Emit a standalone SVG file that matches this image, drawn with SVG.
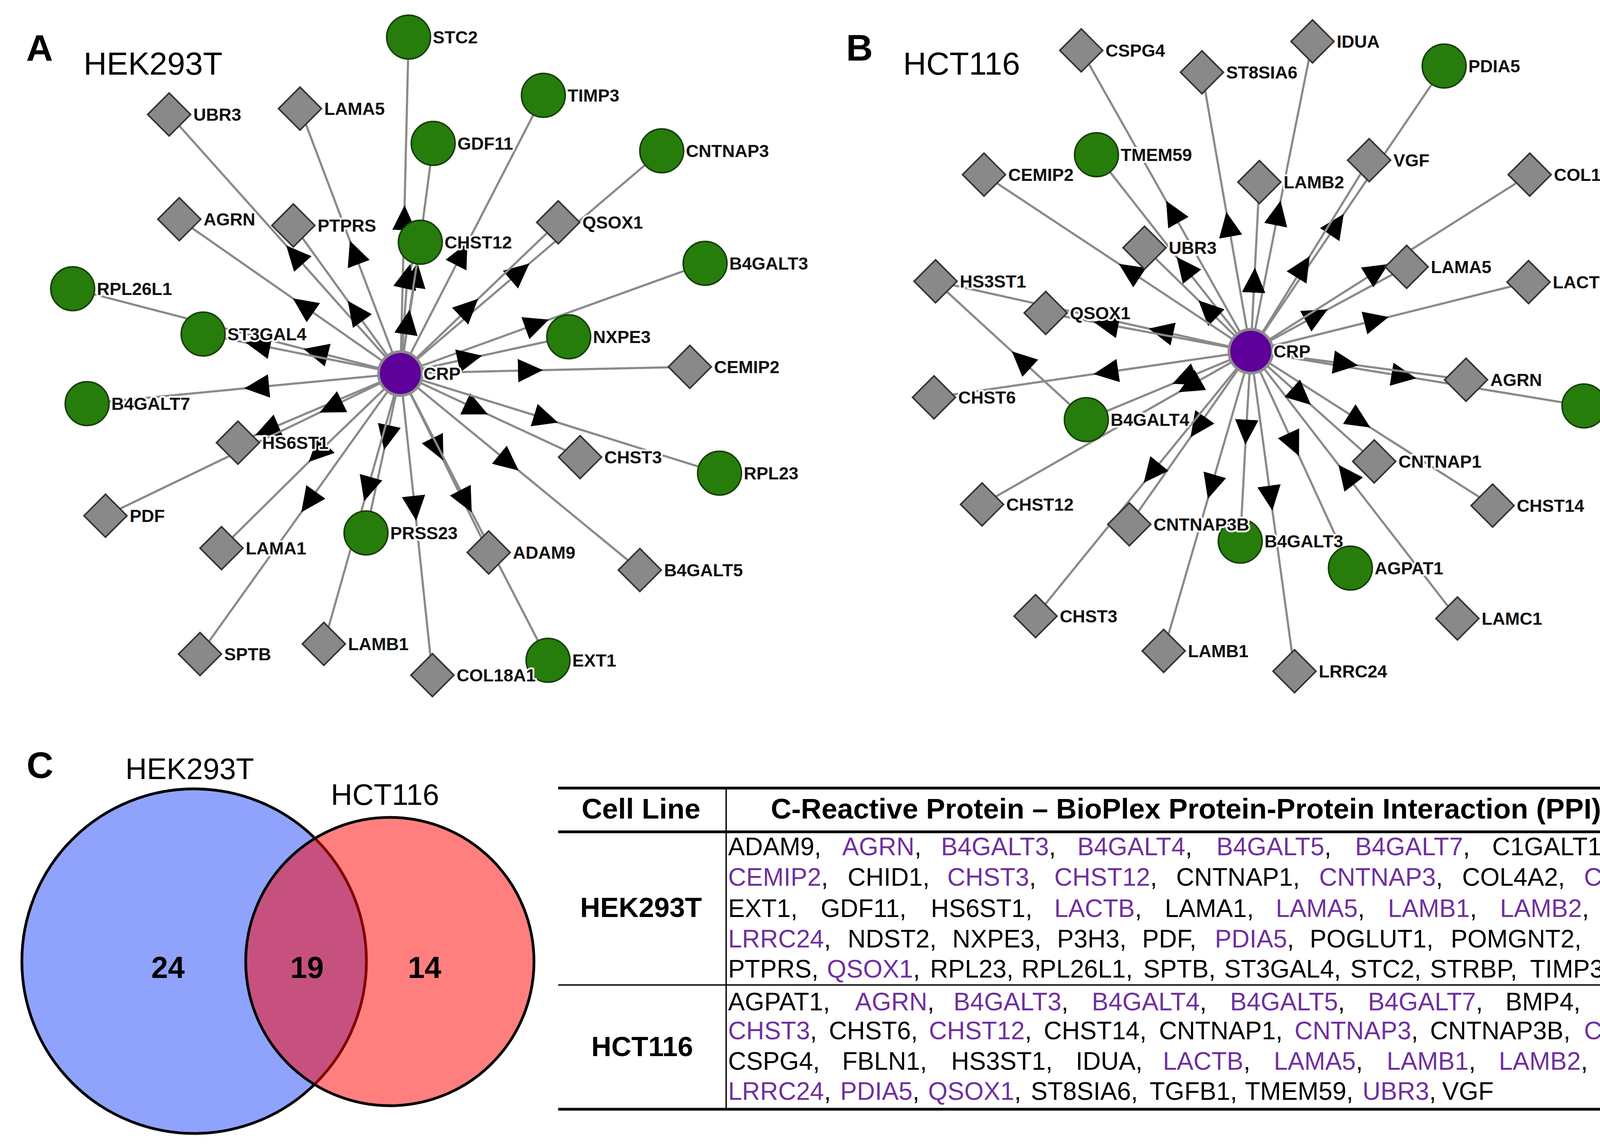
<svg xmlns="http://www.w3.org/2000/svg" width="4411" height="2928" viewBox="0 0 4411 2928">
<defs>
<style>
text{font-family:'Liberation Sans',Arial,sans-serif}
.e{fill:none;stroke:#8a8a8a;stroke-width:5.5;marker-mid:url(#arr)}
.c{fill:#267d0c;stroke:#173f08;stroke-width:4}
.d{fill:#898989;stroke:#333;stroke-width:4}
.crp{fill:#5e0099;stroke:#8c8c8c;stroke-width:7}
.lb{font-weight:bold;font-size:45px;fill:#111;stroke:#fff;stroke-width:9;paint-order:stroke;stroke-linejoin:round}
.pl{font-weight:bold;font-size:95px;fill:#000}
.ti{font-size:82px;fill:#000}
.vt{font-size:76px;fill:#000}
.vn{font-size:77px;font-weight:bold;fill:#000;text-anchor:middle}
.th{font-size:73px;font-weight:bold;fill:#000;text-anchor:middle}
.rl{font-size:71px;font-weight:bold;fill:#000;text-anchor:middle}
.t{font-size:64px;fill:#000}
.p{fill:#7030a0}
.rule{stroke:#000;fill:none}
</style>
<marker id="arr" markerUnits="userSpaceOnUse" viewBox="0 0 64 60" refX="32" refY="30" markerWidth="64" markerHeight="60" orient="auto"><path d="M0,0 L64,30 L0,60 Z" fill="#000"/></marker>
</defs>
<rect width="4411" height="2928" fill="#fff"/>

<text class="pl" x="67" y="156">A</text>
<text class="ti" x="214" y="191">HEK293T</text>
<text class="pl" x="2166" y="155">B</text>
<text class="ti" x="2312" y="191">HCT116</text>

<g id="edges-a">
<path class="e" d="M1025,956 L754,652 L433,293"/>
<path class="e" d="M1025,956 L907,646 L768,278"/>
<path class="e" d="M1025,956 L1035,557 L1046,95"/>
<path class="e" d="M1025,956 L1064,704 L1109,367"/>
<path class="e" d="M1025,956 L1043,707 L1076,620"/>
<path class="e" d="M1025,956 L1044,824 L1076,620"/>
<path class="e" d="M1025,956 L1182,650 L1391,244"/>
<path class="e" d="M1025,956 L1331,695 L1694,386"/>
<path class="e" d="M1025,956 L1201,787 L1429,569"/>
<path class="e" d="M1025,956 L1375,829 L1805,674"/>
<path class="e" d="M1025,956 L808,901 L186,739"/>
<path class="e" d="M1025,956 L660,883 L520,855"/>
<path class="e" d="M1025,956 L1203,917 L1456,862"/>
<path class="e" d="M1025,956 L1358,948 L1766,939"/>
<path class="e" d="M1025,956 L657,991 L223,1033"/>
<path class="e" d="M1025,956 L683,1101 L609,1133"/>
<path class="e" d="M1025,956 L847,1042 L270,1320"/>
<path class="e" d="M1025,956 L813,1160 L567,1403"/>
<path class="e" d="M1025,956 L790,1285 L512,1674"/>
<path class="e" d="M1025,956 L990,1120 L937,1364"/>
<path class="e" d="M1025,956 L941,1252 L829,1648"/>
<path class="e" d="M1025,956 L1062,1301 L1107,1728"/>
<path class="e" d="M1025,956 L1121,1150 L1251,1414"/>
<path class="e" d="M1025,956 L1193,1283 L1403,1690"/>
<path class="e" d="M1025,956 L1220,1047 L1485,1170"/>
<path class="e" d="M1025,956 L1398,1072 L1842,1211"/>
<path class="e" d="M1025,956 L1303,1184 L1638,1459"/>
<path class="e" d="M1025,956 L776,782 L459,561"/>
<path class="e" d="M1025,956 L909,796 L751,577"/>
</g>

<g id="edges-b">
<path class="e" d="M3202,899 L3001,542 L2768,129"/>
<path class="e" d="M3202,899 L3145,574 L3077,185"/>
<path class="e" d="M3202,899 L3272,545 L3360,106"/>
<path class="e" d="M3202,899 L3422,574 L3697,169"/>
<path class="e" d="M3202,899 L3336,683 L3505,410"/>
<path class="e" d="M3202,899 L3211,717 L3224,466"/>
<path class="e" d="M3202,899 L3032,683 L2807,396"/>
<path class="e" d="M3202,899 L3091,791 L2930,634"/>
<path class="e" d="M3202,899 L2891,693 L2519,447"/>
<path class="e" d="M3202,899 L2972,848 L2395,720"/>
<path class="e" d="M3202,899 L2831,830 L2677,801"/>
<path class="e" d="M3202,899 L2831,953 L2391,1017"/>
<path class="e" d="M3202,899 L3031,970 L2781,1074"/>
<path class="e" d="M3202,899 L3045,988 L2514,1291"/>
<path class="e" d="M3202,899 L3066,1093 L2891,1342"/>
<path class="e" d="M3202,899 L2948,1211 L2651,1577"/>
<path class="e" d="M3202,899 L3101,1246 L2979,1666"/>
<path class="e" d="M3202,899 L3190,1106 L3175,1385"/>
<path class="e" d="M3202,899 L3253,1275 L3314,1718"/>
<path class="e" d="M3202,899 L3312,1138 L3457,1454"/>
<path class="e" d="M3731,1583 L3446,1215 L3202,899"/>
<path class="e" d="M3202,899 L3481,1077 L3821,1294"/>
<path class="e" d="M3202,899 L3332,1015 L3518,1181"/>
<path class="e" d="M3202,899 L3594,963 L4055,1039"/>
<path class="e" d="M3202,899 L3445,931 L3753,972"/>
<path class="e" d="M3202,899 L3524,819 L3913,722"/>
<path class="e" d="M3202,899 L3371,807 L3601,683"/>
<path class="e" d="M3202,899 L3527,693 L3916,447"/>
<path class="e" d="M2781,1074 L2614,921 L2395,720"/>
</g>

<g id="a-crp"><circle class="crp" cx="1025" cy="956" r="56"/><text class="lb" x="1084" y="972">CRP</text></g>
<g id="a-ubr3"><path class="d" d="M433,238 l55,55 l-55,55 l-55,-55z"/><text class="lb" x="495" y="309">UBR3</text></g>
<g id="a-lama5"><path class="d" d="M768,223 l55,55 l-55,55 l-55,-55z"/><text class="lb" x="830" y="294">LAMA5</text></g>
<g id="a-stc2"><circle class="c" cx="1046" cy="95" r="56"/><text class="lb" x="1108" y="111">STC2</text></g>
<g id="a-gdf11"><circle class="c" cx="1109" cy="367" r="56"/><text class="lb" x="1171" y="383">GDF11</text></g>
<g id="a-timp3"><circle class="c" cx="1391" cy="244" r="56"/><text class="lb" x="1453" y="260">TIMP3</text></g>
<g id="a-cntnap3"><circle class="c" cx="1694" cy="386" r="56"/><text class="lb" x="1756" y="402">CNTNAP3</text></g>
<g id="a-agrn"><path class="d" d="M459,506 l55,55 l-55,55 l-55,-55z"/><text class="lb" x="521" y="577">AGRN</text></g>
<g id="a-ptprs"><path class="d" d="M751,522 l55,55 l-55,55 l-55,-55z"/><text class="lb" x="813" y="593">PTPRS</text></g>
<g id="a-chst12"><circle class="c" cx="1076" cy="620" r="56"/><text class="lb" x="1138" y="636">CHST12</text></g>
<g id="a-qsox1"><path class="d" d="M1429,514 l55,55 l-55,55 l-55,-55z"/><text class="lb" x="1491" y="585">QSOX1</text></g>
<g id="a-b4galt3"><circle class="c" cx="1805" cy="674" r="56"/><text class="lb" x="1867" y="690">B4GALT3</text></g>
<g id="a-rpl26l1"><circle class="c" cx="186" cy="739" r="56"/><text class="lb" x="248" y="755">RPL26L1</text></g>
<g id="a-st3gal4"><circle class="c" cx="520" cy="855" r="56"/><text class="lb" x="582" y="871">ST3GAL4</text></g>
<g id="a-nxpe3"><circle class="c" cx="1456" cy="862" r="56"/><text class="lb" x="1518" y="878">NXPE3</text></g>
<g id="a-cemip2"><path class="d" d="M1766,884 l55,55 l-55,55 l-55,-55z"/><text class="lb" x="1828" y="955">CEMIP2</text></g>
<g id="a-b4galt7"><circle class="c" cx="223" cy="1033" r="56"/><text class="lb" x="285" y="1049">B4GALT7</text></g>
<g id="a-hs6st1"><path class="d" d="M609,1078 l55,55 l-55,55 l-55,-55z"/><text class="lb" x="671" y="1149">HS6ST1</text></g>
<g id="a-chst3"><path class="d" d="M1485,1115 l55,55 l-55,55 l-55,-55z"/><text class="lb" x="1547" y="1186">CHST3</text></g>
<g id="a-rpl23"><circle class="c" cx="1842" cy="1211" r="56"/><text class="lb" x="1904" y="1227">RPL23</text></g>
<g id="a-pdf"><path class="d" d="M270,1265 l55,55 l-55,55 l-55,-55z"/><text class="lb" x="332" y="1336">PDF</text></g>
<g id="a-lama1"><path class="d" d="M567,1348 l55,55 l-55,55 l-55,-55z"/><text class="lb" x="629" y="1419">LAMA1</text></g>
<g id="a-prss23"><circle class="c" cx="937" cy="1364" r="56"/><text class="lb" x="999" y="1380">PRSS23</text></g>
<g id="a-adam9"><path class="d" d="M1251,1359 l55,55 l-55,55 l-55,-55z"/><text class="lb" x="1313" y="1430">ADAM9</text></g>
<g id="a-b4galt5"><path class="d" d="M1638,1404 l55,55 l-55,55 l-55,-55z"/><text class="lb" x="1700" y="1475">B4GALT5</text></g>
<g id="a-sptb"><path class="d" d="M512,1619 l55,55 l-55,55 l-55,-55z"/><text class="lb" x="574" y="1690">SPTB</text></g>
<g id="a-lamb1"><path class="d" d="M829,1593 l55,55 l-55,55 l-55,-55z"/><text class="lb" x="891" y="1664">LAMB1</text></g>
<g id="a-ext1"><circle class="c" cx="1403" cy="1690" r="56"/><text class="lb" x="1465" y="1706">EXT1</text></g>
<g id="a-col18a1"><path class="d" d="M1107,1673 l55,55 l-55,55 l-55,-55z"/><text class="lb" x="1169" y="1744">COL18A1</text></g>

<g id="b-crp"><circle class="crp" cx="3202" cy="899" r="56"/><text class="lb" x="3260" y="915">CRP</text></g>
<g id="b-cspg4"><path class="d" d="M2768,74 l55,55 l-55,55 l-55,-55z"/><text class="lb" x="2830" y="145">CSPG4</text></g>
<g id="b-st8sia6"><path class="d" d="M3077,130 l55,55 l-55,55 l-55,-55z"/><text class="lb" x="3139" y="201">ST8SIA6</text></g>
<g id="b-idua"><path class="d" d="M3360,51 l55,55 l-55,55 l-55,-55z"/><text class="lb" x="3422" y="122">IDUA</text></g>
<g id="b-pdia5"><circle class="c" cx="3697" cy="169" r="56"/><text class="lb" x="3759" y="185">PDIA5</text></g>
<g id="b-tmem59"><circle class="c" cx="2807" cy="396" r="56"/><text class="lb" x="2869" y="412">TMEM59</text></g>
<g id="b-cemip2"><path class="d" d="M2519,392 l55,55 l-55,55 l-55,-55z"/><text class="lb" x="2581" y="463">CEMIP2</text></g>
<g id="b-lamb2"><path class="d" d="M3224,411 l55,55 l-55,55 l-55,-55z"/><text class="lb" x="3286" y="482">LAMB2</text></g>
<g id="b-vgf"><path class="d" d="M3505,355 l55,55 l-55,55 l-55,-55z"/><text class="lb" x="3567" y="426">VGF</text></g>
<g id="b-col18a1"><path class="d" d="M3916,392 l55,55 l-55,55 l-55,-55z"/><text class="lb" x="3978" y="463">COL18A1</text></g>
<g id="b-ubr3"><path class="d" d="M2930,579 l55,55 l-55,55 l-55,-55z"/><text class="lb" x="2992" y="650">UBR3</text></g>
<g id="b-hs3st1"><path class="d" d="M2395,665 l55,55 l-55,55 l-55,-55z"/><text class="lb" x="2457" y="736">HS3ST1</text></g>
<g id="b-qsox1"><path class="d" d="M2677,746 l55,55 l-55,55 l-55,-55z"/><text class="lb" x="2739" y="817">QSOX1</text></g>
<g id="b-lama5"><path class="d" d="M3601,628 l55,55 l-55,55 l-55,-55z"/><text class="lb" x="3663" y="699">LAMA5</text></g>
<g id="b-lactb"><path class="d" d="M3913,667 l55,55 l-55,55 l-55,-55z"/><text class="lb" x="3975" y="738">LACTB</text></g>
<g id="b-chst6"><path class="d" d="M2391,962 l55,55 l-55,55 l-55,-55z"/><text class="lb" x="2453" y="1033">CHST6</text></g>
<g id="b-b4galt4"><circle class="c" cx="2781" cy="1074" r="56"/><text class="lb" x="2843" y="1090">B4GALT4</text></g>
<g id="b-agrn"><path class="d" d="M3753,917 l55,55 l-55,55 l-55,-55z"/><text class="lb" x="3815" y="988">AGRN</text></g>
<g id="b-cntnap3"><circle class="c" cx="4055" cy="1039" r="56"/><text class="lb" x="4117" y="1055">CNTNAP3</text></g>
<g id="b-cntnap1"><path class="d" d="M3518,1126 l55,55 l-55,55 l-55,-55z"/><text class="lb" x="3580" y="1197">CNTNAP1</text></g>
<g id="b-chst12"><path class="d" d="M2514,1236 l55,55 l-55,55 l-55,-55z"/><text class="lb" x="2576" y="1307">CHST12</text></g>
<g id="b-b4galt3"><circle class="c" cx="3175" cy="1385" r="56"/><text class="lb" x="3237" y="1401">B4GALT3</text></g>
<g id="b-cntnap3b"><path class="d" d="M2891,1287 l55,55 l-55,55 l-55,-55z"/><text class="lb" x="2953" y="1358">CNTNAP3B</text></g>
<g id="b-agpat1"><circle class="c" cx="3457" cy="1454" r="56"/><text class="lb" x="3519" y="1470">AGPAT1</text></g>
<g id="b-chst14"><path class="d" d="M3821,1239 l55,55 l-55,55 l-55,-55z"/><text class="lb" x="3883" y="1310">CHST14</text></g>
<g id="b-chst3"><path class="d" d="M2651,1522 l55,55 l-55,55 l-55,-55z"/><text class="lb" x="2713" y="1593">CHST3</text></g>
<g id="b-lamb1"><path class="d" d="M2979,1611 l55,55 l-55,55 l-55,-55z"/><text class="lb" x="3041" y="1682">LAMB1</text></g>
<g id="b-lrrc24"><path class="d" d="M3314,1663 l55,55 l-55,55 l-55,-55z"/><text class="lb" x="3376" y="1734">LRRC24</text></g>
<g id="b-lamc1"><path class="d" d="M3731,1528 l55,55 l-55,55 l-55,-55z"/><text class="lb" x="3793" y="1599">LAMC1</text></g>

<g id="venn">
<text class="pl" x="68" y="1991">C</text>
<circle cx="497" cy="2460" r="441" fill="#8fa3fd" stroke="#000" stroke-width="7"/>
<circle cx="998" cy="2461" r="369" fill="#ff0000" fill-opacity="0.5" stroke="#000" stroke-width="7"/>
<text class="vt" x="321" y="1994">HEK293T</text>
<text class="vt" x="847" y="2060">HCT116</text>
<text class="vn" x="430" y="2503">24</text>
<text class="vn" x="786" y="2503">19</text>
<text class="vn" x="1087" y="2503">14</text>
</g>

<g id="table">
<line class="rule" x1="1429" y1="2017" x2="4360" y2="2017" stroke-width="7"/>
<line class="rule" x1="1429" y1="2129" x2="4360" y2="2129" stroke-width="7"/>
<line class="rule" x1="1429" y1="2521" x2="4360" y2="2521" stroke-width="3.5"/>
<line class="rule" x1="1429" y1="2839" x2="4360" y2="2839" stroke-width="7"/>
<line class="rule" x1="1859" y1="2017" x2="1859" y2="2839" stroke-width="3.5"/>
<text class="th" x="1641" y="2095">Cell Line</text>
<text class="th" x="3111" y="2095">C-Reactive Protein – BioPlex Protein-Protein Interaction (PPI) List</text>
<text class="rl" x="1641" y="2347">HEK293T</text>
<text class="rl" x="1644" y="2703">HCT116</text>
<text class="t" y="2189"><tspan x="1864">ADAM9,</tspan><tspan x="2156" class="p">AGRN</tspan>,<tspan x="2409" class="p">B4GALT3</tspan>,<tspan x="2758" class="p">B4GALT4</tspan>,<tspan x="3114" class="p">B4GALT5</tspan>,<tspan x="3469" class="p">B4GALT7</tspan>,<tspan x="3820">C1GALT1,</tspan><tspan x="4177">CA11,</tspan></text>
<text class="t" y="2267"><tspan x="1864" class="p">CEMIP2</tspan>,<tspan x="2170">CHID1,</tspan><tspan x="2425" class="p">CHST3</tspan>,<tspan x="2699" class="p">CHST12</tspan>,<tspan x="3011">CNTNAP1,</tspan><tspan x="3377" class="p">CNTNAP3</tspan>,<tspan x="3743">COL4A2,</tspan><tspan x="4055" class="p">COL18A1</tspan>,</text>
<text class="t" y="2347"><tspan x="1864">EXT1,</tspan><tspan x="2101">GDF11,</tspan><tspan x="2383">HS6ST1,</tspan><tspan x="2699" class="p">LACTB</tspan>,<tspan x="2982">LAMA1,</tspan><tspan x="3266" class="p">LAMA5</tspan>,<tspan x="3553" class="p">LAMB1</tspan>,<tspan x="3840" class="p">LAMB2</tspan>,<tspan x="4124" class="p">LAMC1</tspan>,</text>
<text class="t" y="2425"><tspan x="1864" class="p">LRRC24</tspan>,<tspan x="2170">NDST2,</tspan><tspan x="2438">NXPE3,</tspan><tspan x="2706">P3H3,</tspan><tspan x="2924">PDF,</tspan><tspan x="3110" class="p">PDIA5</tspan>,<tspan x="3353">POGLUT1,</tspan><tspan x="3714">POMGNT2,</tspan><tspan x="4093">PRSS23,</tspan></text>
<text class="t" y="2502"><tspan x="1864">PTPRS,</tspan><tspan x="2117" class="p">QSOX1</tspan>,<tspan x="2381">RPL23,</tspan><tspan x="2615">RPL26L1,</tspan><tspan x="2927">SPTB,</tspan><tspan x="3134">ST3GAL4,</tspan><tspan x="3457">STC2,</tspan><tspan x="3661">STRBP,</tspan><tspan x="3917">TIMP3,</tspan><tspan x="4148" class="p">UBR3</tspan></text>
<text class="t" y="2586"><tspan x="1864">AGPAT1,</tspan><tspan x="2189" class="p">AGRN</tspan>,<tspan x="2441" class="p">B4GALT3</tspan>,<tspan x="2795" class="p">B4GALT4</tspan>,<tspan x="3149" class="p">B4GALT5</tspan>,<tspan x="3502" class="p">B4GALT7</tspan>,<tspan x="3854">BMP4,</tspan><tspan x="4100">CEMIP2,</tspan></text>
<text class="t" y="2660"><tspan x="1864" class="p">CHST3</tspan>,<tspan x="2122">CHST6,</tspan><tspan x="2378" class="p">CHST12</tspan>,<tspan x="2672">CHST14,</tspan><tspan x="2967">CNTNAP1,</tspan><tspan x="3314" class="p">CNTNAP3</tspan>,<tspan x="3661">CNTNAP3B,</tspan><tspan x="4055" class="p">COL18A1</tspan>,</text>
<text class="t" y="2738"><tspan x="1864">CSPG4,</tspan><tspan x="2156">FBLN1,</tspan><tspan x="2435">HS3ST1,</tspan><tspan x="2754">IDUA,</tspan><tspan x="2977" class="p">LACTB</tspan>,<tspan x="3261" class="p">LAMA5</tspan>,<tspan x="3550" class="p">LAMB1</tspan>,<tspan x="3837" class="p">LAMB2</tspan>,<tspan x="4122" class="p">LAMC1</tspan>,</text>
<text class="t" y="2815"><tspan x="1864" class="p">LRRC24</tspan>,<tspan x="2151" class="p">PDIA5</tspan>,<tspan x="2376" class="p">QSOX1</tspan>,<tspan x="2639">ST8SIA6,</tspan><tspan x="2943">TGFB1,</tspan><tspan x="3187">TMEM59,</tspan><tspan x="3488" class="p">UBR3</tspan>,<tspan x="3692">VGF</tspan></text>
</g>
</svg>
